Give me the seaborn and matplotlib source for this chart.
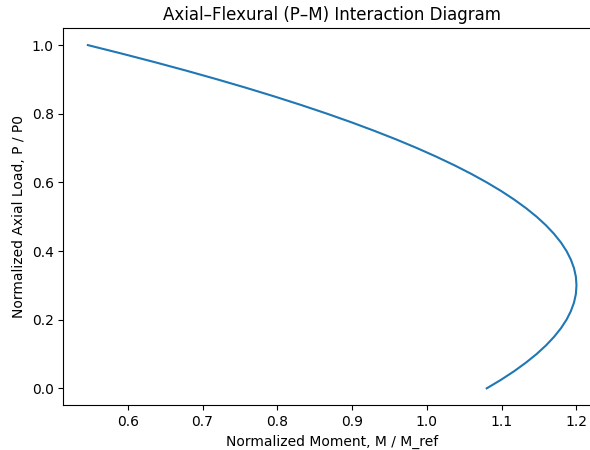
import matplotlib
matplotlib.use("Agg")
import matplotlib.pyplot as plt
import seaborn as sns
import pandas as pd

# Normalized axial load P/P0
axial_load = [0.0, 0.025, 0.05, 0.075, 0.1, 0.125, 0.15, 0.175, 0.2, 0.225,
              0.25, 0.275, 0.3, 0.325, 0.35, 0.375, 0.4, 0.425, 0.45, 0.475,
              0.5, 0.525, 0.55, 0.575, 0.6, 0.625, 0.65, 0.675, 0.7, 0.725,
              0.75, 0.775, 0.8, 0.825, 0.85, 0.875, 0.9, 0.925, 0.95, 0.975, 1.0]
# Normalized moment M/M_ref
moment = [1.08, 1.0992, 1.1167, 1.1325, 1.1467, 1.1592, 1.17, 1.1792, 1.1867, 1.1925,
          1.1967, 1.1992, 1.2, 1.1992, 1.1967, 1.1925, 1.1867, 1.1792, 1.17, 1.1592,
          1.1467, 1.1325, 1.1167, 1.0992, 1.08, 1.0592, 1.0367, 1.0125, 0.9867, 0.9592,
          0.93, 0.8992, 0.8667, 0.8325, 0.7967, 0.7592, 0.72, 0.6792, 0.6367, 0.5925, 0.5467]

df = pd.DataFrame({"M": moment, "P": axial_load})

fig = plt.figure(figsize=(5.9, 4.5), dpi=100)
ax = fig.add_axes([0.1075, 0.0989, 0.911, 0.839])
sns.lineplot(data=df, x="M", y="P", sort=False, estimator=None, color="#1f77b4", ax=ax)
ax.set_title("Axial–Flexural (P–M) Interaction Diagram")
ax.set_xlabel("Normalized Moment, M / M_ref")
ax.set_ylabel("Normalized Axial Load, P / P0")
fig.savefig("out.png", dpi=100)
